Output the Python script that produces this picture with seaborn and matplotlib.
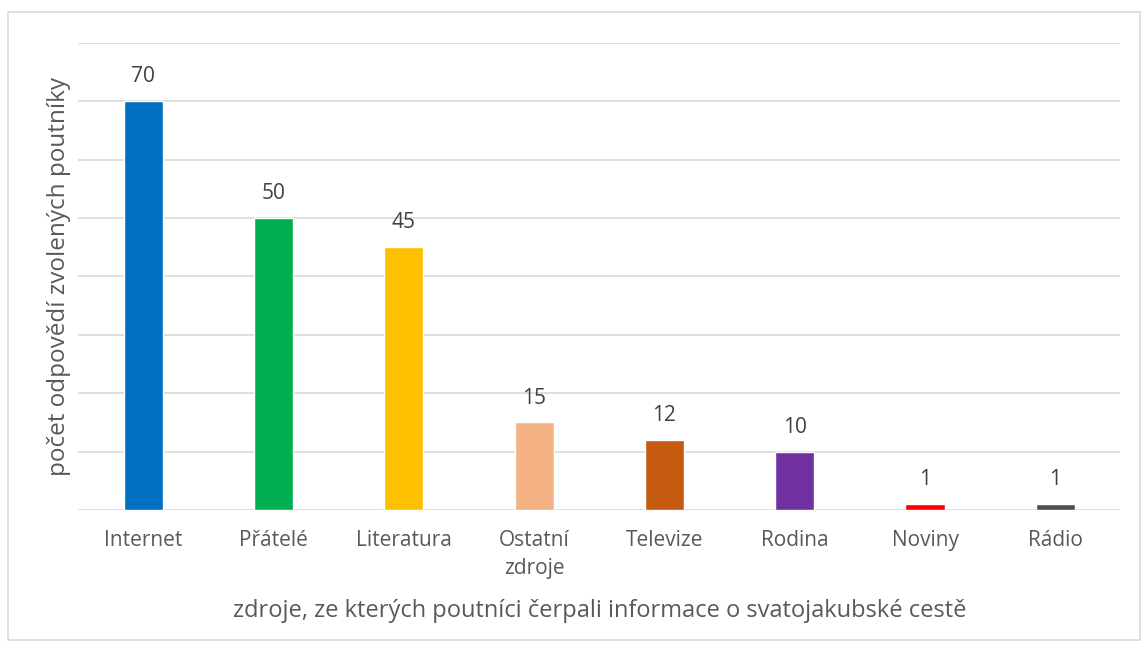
import pandas as pd
import seaborn as sns
import matplotlib.pyplot as plt
from matplotlib.patches import Rectangle

# data
categories = ['Internet', 'Přátelé', 'Literatura', 'Ostatní\nzdroje',
              'Televize', 'Rodina', 'Noviny', 'Rádio']
counts = [70, 50, 45, 15, 12, 10, 1, 1]
colors = ['#0070C0', '#00B050', '#FFC000', '#F4B183',
          '#C55A11', '#7030A0', '#FF0000', '#505050']

df = pd.DataFrame({'zdroj': categories, 'pocet': counts})

sns.set_style('white')
plt.rcParams['font.family'] = ['Open Sans', 'DejaVu Sans']
text_color = '#595959'

fig = plt.figure(figsize=(11.48, 6.51), dpi=100)
ax = fig.add_axes([0.068, 0.2166, 0.908, 0.7174])

sns.barplot(data=df, x='zdroj', y='pocet', hue='zdroj', palette=colors,
            legend=False, width=0.3, ax=ax, saturation=1)

ax.set_ylim(0, 80)
ax.set_yticks(range(0, 81, 10))
ax.yaxis.grid(True, color='#D9D9D9', linewidth=1.2)
ax.set_axisbelow(True)
ax.tick_params(axis='y', left=False, labelleft=False)
ax.tick_params(axis='x', bottom=False, labelsize=15, colors=text_color, pad=11)
for lbl in ax.get_xticklabels():
    lbl.set_linespacing(1.45)
for s in ax.spines.values():
    s.set_visible(False)

for c in ax.containers:
    ax.bar_label(c, padding=10, fontsize=15, color='#404040')

ax.set_xlabel('zdroje, ze kterých poutníci čerpali informace o svatojakubské cestě',
              fontsize=17, color=text_color, labelpad=14)
ax.set_ylabel('počet odpovědí zvolených poutníky', fontsize=17.5,
              color=text_color, labelpad=5)

fig.patches.append(Rectangle((8 / 1148, 11 / 651), 1132 / 1148, 628 / 651,
                             transform=fig.transFigure, fill=False,
                             edgecolor='#D9D9D9', linewidth=1.2))

fig.savefig('out.png', dpi=100)
